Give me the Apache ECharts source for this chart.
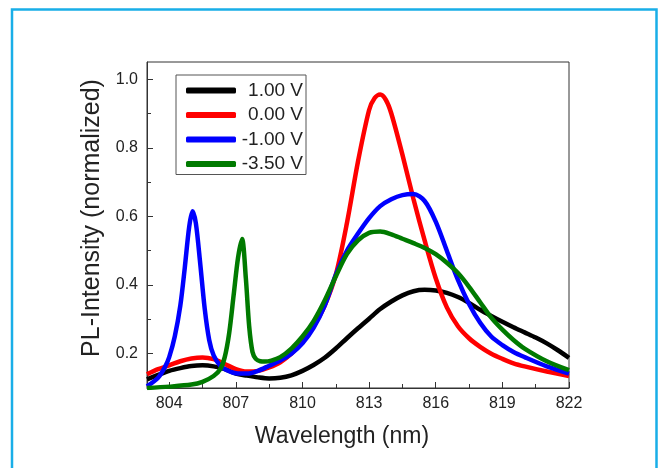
<!DOCTYPE html>
<html>
<head>
<meta charset="utf-8">
<script src="https://cdn.jsdelivr.net/npm/echarts@6/dist/echarts.min.js"></script>
<style>
  html, body { margin: 0; padding: 0; background: #fff; }
  #chart { width: 659px; height: 468px; }
</style>
</head>
<body>
<div id="chart"></div>
<script>
// espectros PL normalizados
var blackX = [803, 803.5, 804, 804.5, 805, 805.5, 806, 806.5, 807, 807.5, 808, 808.5, 809, 809.5, 810, 810.5, 811, 811.5, 812, 812.5, 813, 813.5, 814, 814.5, 815, 815.5, 816, 816.5, 817, 817.5, 818, 818.5, 819, 819.5, 820, 820.5, 821, 821.5, 822];
var blackY = [0.125, 0.138, 0.150, 0.158, 0.164, 0.166, 0.163, 0.155, 0.142, 0.136, 0.131, 0.128, 0.130, 0.137, 0.150, 0.167, 0.188, 0.215, 0.245, 0.274, 0.302, 0.330, 0.352, 0.370, 0.382, 0.386, 0.384, 0.377, 0.365, 0.348, 0.328, 0.310, 0.293, 0.277, 0.262, 0.247, 0.230, 0.210, 0.188];

var redX = [803, 803.5, 804, 804.5, 805, 805.5, 806, 806.5, 807, 807.5, 808, 808.5, 809, 809.5, 810, 810.5, 811, 811.5, 812, 812.5, 813, 813.25, 813.5, 813.75, 814, 814.5, 815, 815.5, 816, 816.5, 817, 817.5, 818, 818.5, 819, 819.5, 820, 821, 822];
var redY = [0.140, 0.155, 0.166, 0.178, 0.186, 0.189, 0.184, 0.170, 0.155, 0.148, 0.150, 0.160, 0.175, 0.200, 0.235, 0.280, 0.340, 0.430, 0.580, 0.760, 0.910, 0.945, 0.955, 0.940, 0.900, 0.780, 0.650, 0.530, 0.420, 0.335, 0.280, 0.245, 0.220, 0.200, 0.185, 0.172, 0.163, 0.148, 0.135];

var blueX = [803, 803.5, 803.8, 804, 804.25, 804.5, 804.7, 804.9, 805.05, 805.2, 805.4, 805.6, 805.8, 806, 806.3, 806.6, 807, 807.5, 808, 808.5, 809, 809.5, 810, 810.5, 811, 811.5, 812, 812.5, 813, 813.5, 814, 814.5, 815, 815.5, 816, 816.5, 817, 817.5, 818, 818.5, 819, 819.5, 820, 821, 822];
var blueY = [0.105, 0.130, 0.160, 0.190, 0.250, 0.340, 0.450, 0.570, 0.615, 0.580, 0.460, 0.330, 0.240, 0.195, 0.165, 0.152, 0.143, 0.142, 0.150, 0.165, 0.180, 0.200, 0.230, 0.275, 0.340, 0.430, 0.500, 0.550, 0.595, 0.630, 0.650, 0.662, 0.665, 0.645, 0.585, 0.500, 0.415, 0.345, 0.290, 0.250, 0.225, 0.205, 0.190, 0.163, 0.142];

var greenX = [803, 804, 805, 805.5, 806, 806.3, 806.5, 806.7, 806.9, 807.1, 807.28, 807.45, 807.6, 807.75, 807.9, 808.1, 808.3, 808.6, 809, 809.5, 810, 810.5, 811, 811.5, 812, 812.5, 813, 813.5, 814, 814.5, 815, 815.5, 816, 816.5, 817, 817.5, 818, 818.5, 819, 819.5, 820, 821, 822];
var greenY = [0.100, 0.104, 0.110, 0.118, 0.135, 0.155, 0.190, 0.260, 0.370, 0.480, 0.534, 0.420, 0.280, 0.205, 0.185, 0.178, 0.177, 0.180, 0.190, 0.215, 0.250, 0.295, 0.355, 0.425, 0.490, 0.530, 0.552, 0.556, 0.548, 0.535, 0.522, 0.508, 0.490, 0.465, 0.435, 0.395, 0.350, 0.305, 0.270, 0.240, 0.215, 0.178, 0.152];

var seriesNames = ['1.00 V', '0.00 V', '-1.00 V', '-3.50 V'];
var seriesColors = ['#000000', '#ff0000', '#0000ff', '#007a00'];
var xTicks = [804, 807, 810, 813, 816, 819, 822];
var xMinorTicks = [805.5, 808.5, 811.5, 814.5, 817.5, 820.5];
var yTicks = [0.2, 0.4, 0.6, 0.8, 1.0];
var yMinorTicks = [0.3, 0.5, 0.7, 0.9];

function pares(xs, ys) {
  var out = [];
  for (var i = 0; i < xs.length; i++) out.push([xs[i], ys[i]]);
  return out;
}

var chart = echarts.init(document.getElementById('chart'), null, { renderer: 'canvas' });
var font = 'Liberation Sans, Arial, sans-serif';
var datos = [pares(blackX, blackY), pares(redX, redY), pares(blueX, blueY), pares(greenX, greenY)];

chart.setOption({
  animation: false,
  backgroundColor: '#ffffff',
  graphic: [{
    type: 'rect',
    shape: { x: 12, y: 9.5, width: 644.5, height: 480 },
    style: { fill: 'none', stroke: '#19aee8', lineWidth: 2.5 },
    silent: true
  }],
  grid: {
    left: 147, right: 90, top: 62, bottom: 80,
    show: true, borderColor: '#333', borderWidth: 1, backgroundColor: 'transparent'
  },
  legend: {
    orient: 'vertical',
    left: 176, top: 75,
    data: seriesNames,
    icon: 'roundRect',
    itemWidth: 50, itemHeight: 6,
    itemGap: 5.5,
    padding: [6, 3, 1, 10],
    borderColor: '#555', borderWidth: 1,
    selectedMode: false,
    formatter: function (n) { return '{t|' + n + '}'; },
    textStyle: {
      rich: { t: { fontFamily: font, fontSize: 19, color: '#222', width: 62, align: 'right', lineHeight: 19 } }
    }
  },
  xAxis: [{
    type: 'value', min: 803, max: 822,
    name: 'Wavelength (nm)', nameLocation: 'middle', nameGap: 37,
    nameTextStyle: { fontFamily: font, fontSize: 23, color: '#222', padding: [0, 32, 0, 0] },
    axisLine: { lineStyle: { color: '#333', width: 1 } },
    axisTick: { inside: true, length: 6, customValues: xTicks, lineStyle: { color: '#333' } },
    axisLabel: { customValues: xTicks, fontFamily: font, fontSize: 16, color: '#222', margin: 8 },
    splitLine: { show: false }
  }, {
    type: 'value', min: 803, max: 822, position: 'bottom',
    axisLine: { show: false },
    axisTick: { inside: true, length: 4, customValues: xMinorTicks, lineStyle: { color: '#333' } },
    axisLabel: { show: false },
    splitLine: { show: false }
  }],
  yAxis: [{
    type: 'value', min: 0.1, max: 1.05,
    name: 'PL-Intensity (normalized)', nameLocation: 'middle', nameGap: 41,
    nameTextStyle: { fontFamily: font, fontSize: 25, color: '#222', padding: [0, 0, 0, 14] },
    axisLine: { show: true, lineStyle: { color: '#333', width: 1 } },
    axisTick: { show: true, inside: true, length: 6, customValues: yTicks, lineStyle: { color: '#333' } },
    axisLabel: {
      customValues: yTicks, fontFamily: font, fontSize: 16, color: '#222', margin: 9,
      formatter: function (v) { return v.toFixed(1); }
    },
    splitLine: { show: false }
  }, {
    type: 'value', min: 0.1, max: 1.05, position: 'left',
    axisLine: { show: false },
    axisTick: { show: true, inside: true, length: 4, customValues: yMinorTicks, lineStyle: { color: '#333' } },
    axisLabel: { show: false },
    splitLine: { show: false }
  }],
  series: seriesNames.map(function (n, i) {
    return {
      name: n, type: 'line', data: datos[i],
      smooth: 0.3, showSymbol: false, symbol: 'none',
      xAxisIndex: 0, yAxisIndex: 0,
      itemStyle: { color: seriesColors[i] },
      lineStyle: { color: seriesColors[i], width: 4.5 }
    };
  })
});
</script>
</body>
</html>
